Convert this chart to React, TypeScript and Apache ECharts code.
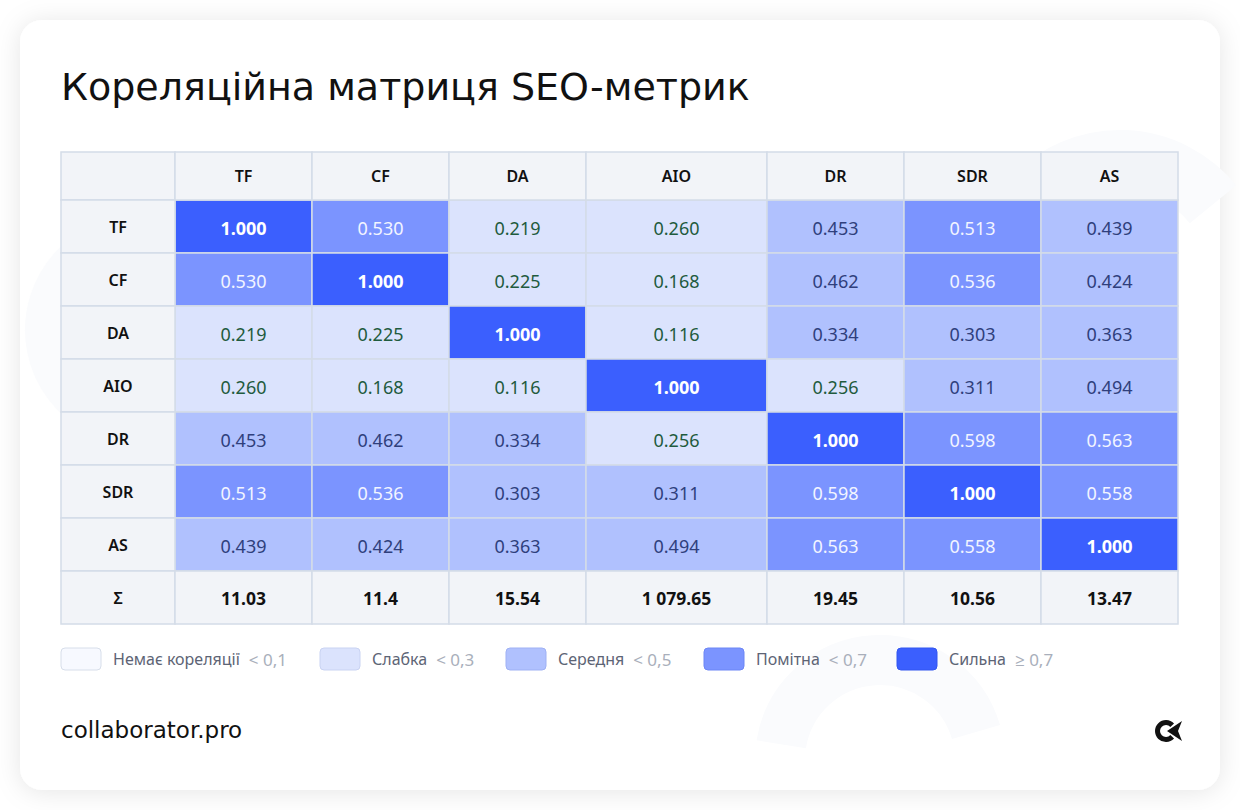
import React, { useEffect, useRef } from 'react';
import * as echarts from 'echarts';

// ---------- data ----------
const titleText = 'Кореляційна матриця SEO-метрик';
const footerText = 'collaborator.pro';
const metrics = ['TF', 'CF', 'DA', 'AIO', 'DR', 'SDR', 'AS'];
const rowTF = [1.0, 0.53, 0.219, 0.26, 0.453, 0.513, 0.439];
const rowCF = [0.53, 1.0, 0.225, 0.168, 0.462, 0.536, 0.424];
const rowDA = [0.219, 0.225, 1.0, 0.116, 0.334, 0.303, 0.363];
const rowAIO = [0.26, 0.168, 0.116, 1.0, 0.256, 0.311, 0.494];
const rowDR = [0.453, 0.462, 0.334, 0.256, 1.0, 0.598, 0.563];
const rowSDR = [0.513, 0.536, 0.303, 0.311, 0.598, 1.0, 0.558];
const rowAS = [0.439, 0.424, 0.363, 0.494, 0.563, 0.558, 1.0];
const matrix = [rowTF, rowCF, rowDA, rowAIO, rowDR, rowSDR, rowAS];
const sumLabel = 'Σ';
const sums = ['11.03', '11.4', '15.54', '1 079.65', '19.45', '10.56', '13.47'];
const legendNames = ['Немає кореляції', 'Слабка', 'Середня', 'Помітна', 'Сильна'];
const legendThresholds = ['< 0,1', '< 0,3', '< 0,5', '< 0,7', '≥ 0,7'];
const thresholds = [0.1, 0.3, 0.5, 0.7];

// ---------- style / layout ----------
const levelColors = ['#f7f9ff', '#dbe3fd', '#b0c1fe', '#7b94ff', '#3b5ffe'];
const levelBorders = ['#d7deea', '#c9d3f2', '#9fb1f4', '#6d86f5', '#3356f0'];
const levelText = ['#333333', '#1f5b3e', '#2f3f7c', '#f2f5ff', '#ffffff'];
const headBg = '#f2f4f8';
const gridLine = '#d4dce7';
const COL_W = [114, 137, 137, 137, 181, 137, 137, 137];
const HEAD_H = 48;
const ROW_H = 53;
const TABLE_X = 61;
const TABLE_Y = 152;
const LEGEND_X = [61, 320, 506, 704, 897];
const LEGEND_Y = 659;

const colEdges: number[] = [0];
COL_W.forEach((w, i) => colEdges.push(colEdges[i] + w));
const rowEdges: number[] = [0, HEAD_H];
for (let i = 0; i < 8; i++) rowEdges.push(rowEdges[rowEdges.length - 1] + ROW_H);
const totalW = colEdges[colEdges.length - 1];
const totalH = rowEdges[rowEdges.length - 1];

const level = (v: number) => {
  let l = 0;
  thresholds.forEach((t) => {
    if (v >= t) l++;
  });
  return l;
};

const cellData = matrix.flatMap((row, r) => row.map((v, c) => [c, r, v]));

type LabelCell = { col: number; row: number; text: string; size: number; weight: string };
const labelCells: LabelCell[] = [];
labelCells.push({ col: -1, row: -1, text: '', size: 16, weight: '600' });
metrics.forEach((m, c) => labelCells.push({ col: c, row: -1, text: m, size: 16, weight: '600' }));
metrics.forEach((m, r) => labelCells.push({ col: -1, row: r, text: m, size: 16, weight: '600' }));
labelCells.push({ col: -1, row: 7, text: sumLabel, size: 16, weight: '600' });
sums.forEach((s, c) => labelCells.push({ col: c, row: 7, text: s, size: 17.5, weight: 'bold' }));

const FONT = '"Noto Sans", "Open Sans", sans-serif';

function cellRect(api: any, col: number, row: number) {
  const p0 = api.coord([colEdges[col + 1], rowEdges[row + 1]]);
  const p1 = api.coord([colEdges[col + 2], rowEdges[row + 2]]);
  return { x: p0[0], y: p0[1], width: p1[0] - p0[0], height: p1[1] - p0[1] };
}

export default function App() {
  const ref = useRef<HTMLDivElement>(null);
  useEffect(() => {
    const chart = echarts.init(ref.current!, null, { renderer: 'svg' });

    const legendGraphics: any[] = [];
    legendNames.forEach((name, i) => {
      const x = LEGEND_X[i];
      legendGraphics.push({
        type: 'rect',
        z: 5,
        shape: { x, y: LEGEND_Y - 11, width: 40, height: 22, r: 4 },
        style: { fill: levelColors[i], stroke: levelBorders[i], lineWidth: 1 },
      });
      legendGraphics.push({
        type: 'text',
        z: 5,
        x: x + 52,
        y: LEGEND_Y,
        style: {
          text: `{n|${name}}{t|${legendThresholds[i]}}`,
          verticalAlign: 'middle',
          align: 'left',
          rich: {
            n: { fontFamily: FONT, fontSize: 16, fill: '#5d6475', color: '#5d6475' },
            t: {
              fontFamily: FONT,
              fontSize: 17,
              fill: '#a9afbb',
              color: '#a9afbb',
              padding: [0, 0, 0, 9],
            },
          },
        },
      });
    });

    const wm = '#fafbfd';
    const option: any = {
      animation: false,
      backgroundColor: '#ffffff',
      grid: { left: TABLE_X, top: TABLE_Y, width: totalW, height: totalH },
      xAxis: { type: 'value', min: 0, max: totalW, show: false },
      yAxis: { type: 'value', min: 0, max: totalH, inverse: true, show: false },
      visualMap: {
        type: 'piecewise',
        show: false,
        dimension: 2,
        seriesIndex: 0,
        pieces: [
          { lt: thresholds[0], color: levelColors[0] },
          { gte: thresholds[0], lt: thresholds[1], color: levelColors[1] },
          { gte: thresholds[1], lt: thresholds[2], color: levelColors[2] },
          { gte: thresholds[2], lt: thresholds[3], color: levelColors[3] },
          { gte: thresholds[3], color: levelColors[4] },
        ],
      },
      graphic: [
        {
          type: 'rect',
          z: -10,
          shape: { x: 20, y: 20, width: 1200, height: 770, r: 22 },
          style: { fill: '#ffffff', shadowBlur: 26, shadowColor: 'rgba(0,0,0,0.10)', shadowOffsetY: 2 },
        },
        { type: 'arc', z: -9, shape: { cx: 1120, cy: 280, r: 120, startAngle: 2.2, endAngle: 5.6 }, style: { stroke: wm, lineWidth: 60, fill: 'none' } },
        { type: 'arc', z: -9, shape: { cx: 140, cy: 330, r: 90, startAngle: 0.6, endAngle: 4.4 }, style: { stroke: wm, lineWidth: 50, fill: 'none' } },
        { type: 'arc', z: -9, shape: { cx: 880, cy: 760, r: 100, startAngle: 3.3, endAngle: 6.0 }, style: { stroke: wm, lineWidth: 50, fill: 'none' } },
        {
          type: 'text',
          z: 5,
          x: 61,
          y: 87,
          style: {
            text: titleText,
            font: '38px "DejaVu Sans", sans-serif',
            fill: '#111111',
            verticalAlign: 'middle',
          },
        },
        {
          type: 'text',
          z: 5,
          x: 61,
          y: 730,
          style: {
            text: footerText,
            font: '23px "DejaVu Sans", sans-serif',
            fill: '#111111',
            verticalAlign: 'middle',
          },
        },
        {
          type: 'arc',
          z: 5,
          shape: { cx: 1166, cy: 731, r: 8.5, startAngle: 0.75, endAngle: 5.53, clockwise: true },
          style: { stroke: '#111111', lineWidth: 5, fill: 'none' },
        },
        {
          type: 'polygon',
          z: 5,
          shape: { points: [[1167, 731], [1182, 721], [1178, 731], [1182, 741]] },
          style: { fill: '#111111' },
        },
        ...legendGraphics,
      ],
      series: [
        {
          type: 'custom',
          clip: false,
          data: cellData,
          renderItem: (params: any, api: any) => {
            const c = api.value(0);
            const r = api.value(1);
            const v = api.value(2);
            const rect = cellRect(api, c, r);
            const lv = level(v);
            return {
              type: 'group',
              children: [
                {
                  type: 'rect',
                  shape: rect,
                  style: { fill: api.visual('color'), stroke: gridLine, lineWidth: 1.5 },
                },
                {
                  type: 'text',
                  style: {
                    text: v.toFixed(3),
                    x: rect.x + rect.width / 2,
                    y: rect.y + rect.height / 2 + 1,
                    align: 'center',
                    verticalAlign: 'middle',
                    fill: levelText[lv],
                    font: `${lv === 4 ? 'bold ' : ''}18px ${FONT}`,
                  },
                },
              ],
            };
          },
        },
        {
          type: 'custom',
          clip: false,
          data: labelCells.map((l) => [l.col, l.row]),
          renderItem: (params: any, api: any) => {
            const cell = labelCells[params.dataIndex];
            const rect = cellRect(api, api.value(0), api.value(1));
            return {
              type: 'group',
              children: [
                {
                  type: 'rect',
                  shape: rect,
                  style: { fill: headBg, stroke: gridLine, lineWidth: 1.5 },
                },
                {
                  type: 'text',
                  style: {
                    text: cell.text,
                    x: rect.x + rect.width / 2,
                    y: rect.y + rect.height / 2,
                    align: 'center',
                    verticalAlign: 'middle',
                    fill: '#111111',
                    font: `${cell.weight} ${cell.size}px ${FONT}`,
                  },
                },
              ],
            };
          },
        },
      ],
    };
    chart.setOption(option);
    return () => chart.dispose();
  }, []);
  return (
    <div
      ref={ref}
      style={{ position: 'fixed', left: 0, top: 0, width: 1240, height: 810, background: '#ffffff' }}
    />
  );
}
